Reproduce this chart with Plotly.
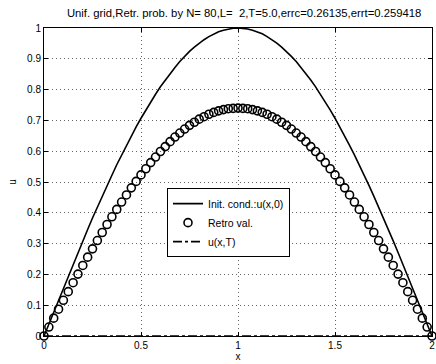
import numpy as np
import plotly.graph_objects as go

# grid x_i = i*L/N, N=80, L=2
x_grid = np.linspace(0, 2, 81)

init_vals = [0.000, 0.039, 0.078, 0.118, 0.156, 0.195, 0.233, 0.271, 0.309, 0.346,
             0.383, 0.419, 0.454, 0.489, 0.522, 0.556, 0.588, 0.619, 0.649, 0.679,
             0.707, 0.734, 0.760, 0.785, 0.809, 0.831, 0.853, 0.872, 0.891, 0.908,
             0.924, 0.938, 0.951, 0.962, 0.972, 0.981, 0.988, 0.993, 0.997, 0.999,
             1.000, 0.999, 0.997, 0.993, 0.988, 0.981, 0.972, 0.962, 0.951, 0.938,
             0.924, 0.908, 0.891, 0.872, 0.853, 0.831, 0.809, 0.785, 0.760, 0.734,
             0.707, 0.679, 0.649, 0.619, 0.588, 0.556, 0.522, 0.489, 0.454, 0.419,
             0.383, 0.346, 0.309, 0.271, 0.233, 0.195, 0.156, 0.118, 0.078, 0.039,
             0.000]

retro_vals = [0.000, 0.029, 0.058, 0.087, 0.116, 0.144, 0.173, 0.201, 0.229, 0.256,
              0.283, 0.310, 0.336, 0.362, 0.387, 0.411, 0.435, 0.458, 0.481, 0.502,
              0.523, 0.543, 0.563, 0.581, 0.599, 0.615, 0.631, 0.646, 0.659, 0.672,
              0.684, 0.694, 0.704, 0.712, 0.720, 0.726, 0.731, 0.735, 0.738, 0.739,
              0.740, 0.739, 0.738, 0.735, 0.731, 0.726, 0.720, 0.712, 0.704, 0.694,
              0.684, 0.672, 0.659, 0.646, 0.631, 0.615, 0.599, 0.581, 0.563, 0.543,
              0.523, 0.502, 0.481, 0.458, 0.435, 0.411, 0.387, 0.362, 0.336, 0.310,
              0.283, 0.256, 0.229, 0.201, 0.173, 0.144, 0.116, 0.087, 0.058, 0.029,
              0.000]

uT_vals = [0.0, 0.0, 0.0, 0.0, 0.0, 0.0, 0.0, 0.0, 0.0, 0.0,
           0.0, 0.0, 0.0, 0.0, 0.0, 0.0, 0.0, 0.0, 0.0, 0.0,
           0.0, 0.0, 0.0, 0.0, 0.0, 0.0, 0.0, 0.0, 0.0, 0.0,
           0.0, 0.0, 0.0, 0.0, 0.0, 0.0, 0.0, 0.0, 0.0, 0.0,
           0.0, 0.0, 0.0, 0.0, 0.0, 0.0, 0.0, 0.0, 0.0, 0.0,
           0.0, 0.0, 0.0, 0.0, 0.0, 0.0, 0.0, 0.0, 0.0, 0.0,
           0.0, 0.0, 0.0, 0.0, 0.0, 0.0, 0.0, 0.0, 0.0, 0.0,
           0.0, 0.0, 0.0, 0.0, 0.0, 0.0, 0.0, 0.0, 0.0, 0.0,
           0.0]

x_ticks = [0, 0.5, 1, 1.5, 2]
x_tick_labels = ["0", "0.5", "1", "1.5", "2"]
y_ticks = [0, 0.1, 0.2, 0.3, 0.4, 0.5, 0.6, 0.7, 0.8, 0.9, 1]
y_tick_labels = ["0", "0.1", "0.2", "0.3", "0.4", "0.5", "0.6", "0.7", "0.8", "0.9", "1"]

title = "Unif. grid,Retr. prob. by N= 80,L=  2,T=5.0,errc=0.26135,errt=0.259418"

FONT = "Liberation Sans, Arial, Helvetica, sans-serif"

fig = go.Figure()
fig.add_trace(go.Scatter(x=x_grid, y=init_vals, mode="lines",
                         line=dict(color="black", width=1.6),
                         name="Init. cond.:u(x,0)", cliponaxis=False))
fig.add_trace(go.Scatter(x=x_grid, y=retro_vals, mode="markers",
                         marker=dict(symbol="circle-open", size=8, color="black",
                                     line=dict(width=1.6, color="black")),
                         name="Retro val.", cliponaxis=False))
fig.add_trace(go.Scatter(x=x_grid, y=uT_vals, mode="lines",
                         line=dict(color="black", width=1.6, dash="dashdot"),
                         name="u(x,T)", cliponaxis=False))

axis_common = dict(showline=True, linecolor="black", linewidth=1, mirror="allticks",
                   ticks="inside", ticklen=4, tickcolor="black",
                   showgrid=True, gridcolor="rgba(0,0,0,0.6)", griddash="1px,3px", gridwidth=1,
                   zeroline=False, ticklabeloverflow="allow",
                   tickfont=dict(size=10, color="black", family=FONT))

fig.update_xaxes(range=[0, 2], tickvals=x_ticks, ticktext=x_tick_labels,
                 title=dict(text="x", font=dict(size=10, color="black", family=FONT), standoff=2),
                 **axis_common)
fig.update_yaxes(range=[0, 1], tickvals=y_ticks, ticktext=y_tick_labels,
                 title=dict(text="u", font=dict(size=10, color="black", family=FONT), standoff=8),
                 **axis_common)

fig.update_layout(
    width=436, height=364,
    margin=dict(l=44, r=1, t=28, b=28),
    paper_bgcolor="white", plot_bgcolor="white",
    font=dict(family=FONT, size=10, color="black"),
    title=dict(text=title, x=0.56, xanchor="center", y=0.965, yanchor="middle",
               font=dict(size=11.3, color="black", family=FONT)),
    showlegend=True,
    legend=dict(x=0.317, y=0.48, xanchor="left", yanchor="top",
                bgcolor="white", bordercolor="black", borderwidth=1,
                font=dict(size=10.5, color="black", family=FONT),
                tracegroupgap=0, itemwidth=30),
)

fig.write_html("out.html")
